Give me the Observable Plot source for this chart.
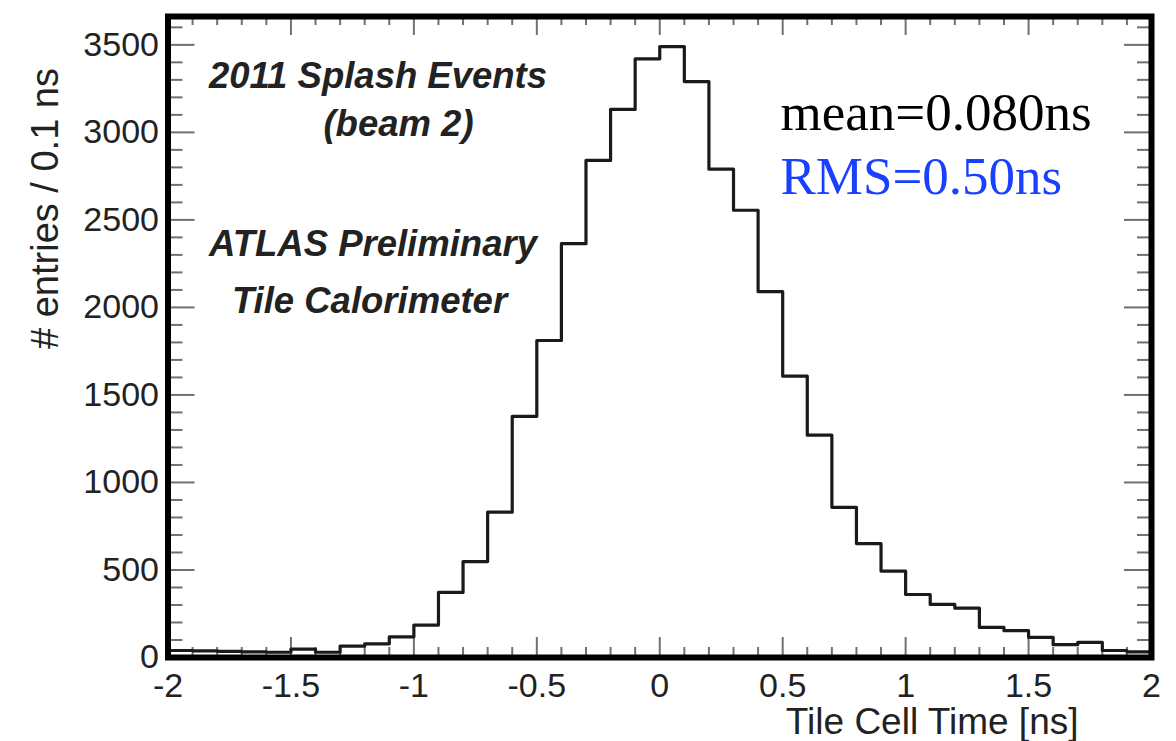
<!DOCTYPE html>
<html>
<head>
<meta charset="utf-8">
<script src="https://cdn.jsdelivr.net/npm/d3@7"></script>
<script src="https://cdn.jsdelivr.net/npm/@observablehq/plot@0.6"></script>
<style>
  html, body { margin: 0; padding: 0; background: #fff; }
  #chart svg { display: block; }
</style>
</head>
<body>
<div id="chart"></div>
<script>
// ---- data ----
const binLow = [-2.0, -1.9, -1.8, -1.7, -1.6, -1.5, -1.4, -1.3, -1.2, -1.1,
                -1.0, -0.9, -0.8, -0.7, -0.6, -0.5, -0.4, -0.3, -0.2, -0.1,
                 0.0,  0.1,  0.2,  0.3,  0.4,  0.5,  0.6,  0.7,  0.8,  0.9,
                 1.0,  1.1,  1.2,  1.3,  1.4,  1.5,  1.6,  1.7,  1.8,  1.9];
const counts = [40, 38, 35, 32, 30, 48, 30, 65, 78, 118,
                185, 372, 548, 830, 1378, 1811, 2364, 2840, 3131, 3420,
                3490, 3290, 2790, 2555, 2090, 1607, 1270, 858, 651, 494,
                360, 303, 282, 172, 153, 115, 73, 86, 40, 32];
const binWidth = 0.1;

const xMajorTicks = [-2, -1.5, -1, -0.5, 0, 0.5, 1, 1.5, 2];
const xMajorLabels = ["-2", "-1.5", "-1", "-0.5", "0", "0.5", "1", "1.5", "2"];
const xMinorTicks = [-1.9, -1.8, -1.7, -1.6, -1.4, -1.3, -1.2, -1.1, -0.9, -0.8, -0.7, -0.6,
                     -0.4, -0.3, -0.2, -0.1, 0.1, 0.2, 0.3, 0.4, 0.6, 0.7, 0.8, 0.9,
                     1.1, 1.2, 1.3, 1.4, 1.6, 1.7, 1.8, 1.9];
const yMajorTicks = [0, 500, 1000, 1500, 2000, 2500, 3000, 3500];
const yMajorLabels = ["0", "500", "1000", "1500", "2000", "2500", "3000", "3500"];
const yMinorTicks = [100, 200, 300, 400, 600, 700, 800, 900, 1100, 1200, 1300, 1400,
                     1600, 1700, 1800, 1900, 2100, 2200, 2300, 2400, 2600, 2700, 2800, 2900,
                     3100, 3200, 3300, 3400, 3600];
const xDomain = [-2, 2];
const yDomain = [0, 3662];

const xTitle = "Tile Cell Time [ns]";
const yTitle = "# entries / 0.1 ns";
const infoLines = ["2011 Splash Events", "(beam 2)", "ATLAS Preliminary", "Tile Calorimeter"];
const meanText = "mean=0.080ns";
const rmsText = "RMS=0.50ns";

// ---- layout ----
const W = 1176, H = 741;
const mL = 167.5, mR = 25, mT = 16, mB = 84;
const pxX = (xDomain[1] - xDomain[0]) / (W - mL - mR);
const pxY = (yDomain[1] - yDomain[0]) / (H - mT - mB);

// histogram outline points (step-after)
const steps = binLow.map((x, i) => ({x, y: counts[i]}));
steps.push({x: binLow[binLow.length - 1] + binWidth, y: counts[counts.length - 1]});

const tickStroke = "#707070";
const tickW = 2;
const xLab = new Map(xMajorTicks.map((t, i) => [t, xMajorLabels[i]]));
const yLab = new Map(yMajorTicks.map((t, i) => [t, yMajorLabels[i]]));

const [x0, x1] = xDomain, [y0, y1] = yDomain;
const infoStyle = {textAnchor: "middle", lineAnchor: "bottom", fontSize: 36.5, fontWeight: "bold", fontStyle: "italic", fill: "#222", frameAnchor: "top-left"};
const serif = "'Liberation Serif', 'Times New Roman', serif";

const chart = Plot.plot({
  width: W, height: H,
  marginLeft: mL, marginRight: mR, marginTop: mT, marginBottom: mB,
  style: {fontFamily: "'Liberation Sans', Arial, sans-serif", background: "#fff", color: "#222"},
  x: {domain: xDomain},
  y: {domain: yDomain},
  marks: [
    // inner ticks: bottom
    Plot.ruleX(xMajorTicks, {x: d => d, y1: y0, y2: y0 + 20 * pxY, stroke: tickStroke, strokeWidth: tickW}),
    Plot.ruleX(xMinorTicks, {x: d => d, y1: y0, y2: y0 + 10 * pxY, stroke: tickStroke, strokeWidth: tickW}),
    // top
    Plot.ruleX(xMajorTicks, {x: d => d, y1: y1 - 19 * pxY, y2: y1, stroke: tickStroke, strokeWidth: tickW}),
    Plot.ruleX(xMinorTicks, {x: d => d, y1: y1 - 9 * pxY, y2: y1, stroke: tickStroke, strokeWidth: tickW}),
    // left
    Plot.ruleY(yMajorTicks, {y: d => d, x1: x0, x2: x0 + 27 * pxX, stroke: tickStroke, strokeWidth: tickW}),
    Plot.ruleY(yMinorTicks, {y: d => d, x1: x0, x2: x0 + 15 * pxX, stroke: tickStroke, strokeWidth: tickW}),
    // right
    Plot.ruleY(yMajorTicks, {y: d => d, x1: x1 - 27 * pxX, x2: x1, stroke: tickStroke, strokeWidth: tickW}),
    Plot.ruleY(yMinorTicks, {y: d => d, x1: x1 - 14 * pxX, x2: x1, stroke: tickStroke, strokeWidth: tickW}),

    // histogram
    Plot.lineY(steps, {x: "x", y: "y", curve: "step-after", stroke: "#1a1a1a", strokeWidth: 3.2}),

    // frame
    Plot.frame({stroke: "#000", strokeWidth: 6}),

    // tick labels
    Plot.axisX(xMajorTicks, {anchor: "bottom", tickSize: 0, tickPadding: 15, fontSize: 34,
      tickFormat: d => xLab.get(d), label: null, fill: "#222"}),
    Plot.axisY(yMajorTicks, {anchor: "left", tickSize: 0, tickPadding: 9, fontSize: 34,
      tickFormat: d => yLab.get(d), label: null, fill: "#222"}),

    // axis titles
    Plot.text([xTitle], {text: d => d, frameAnchor: "bottom-right", dx: -73, dy: 76,
      textAnchor: "end", lineAnchor: "bottom", fontSize: 37, fill: "#222"}),
    Plot.text([yTitle], {text: d => d, frameAnchor: "top-left", dx: -122, dy: 192,
      rotate: -90, textAnchor: "middle", lineAnchor: "middle", fontSize: 38, fill: "#222"}),

    // annotations
    Plot.text([infoLines[0]], {text: d => d, dx: 210, dy: 71, ...infoStyle}),
    Plot.text([infoLines[1]], {text: d => d, dx: 230.5, dy: 119, ...infoStyle}),
    Plot.text([infoLines[2]], {text: d => d, dx: 205, dy: 239, ...infoStyle}),
    Plot.text([infoLines[3]], {text: d => d, dx: 201.5, dy: 296, ...infoStyle}),

    Plot.text([meanText], {text: d => d, frameAnchor: "top-left", dx: 612.5, dy: 113,
      textAnchor: "start", lineAnchor: "bottom", fontSize: 53, fontFamily: serif, fill: "#000"}),
    Plot.text([rmsText], {text: d => d, frameAnchor: "top-left", dx: 612.5, dy: 177,
      textAnchor: "start", lineAnchor: "bottom", fontSize: 53, fontFamily: serif, fill: "#1a40ff"})
  ]
});
document.getElementById("chart").appendChild(chart);
</script>
</body>
</html>
